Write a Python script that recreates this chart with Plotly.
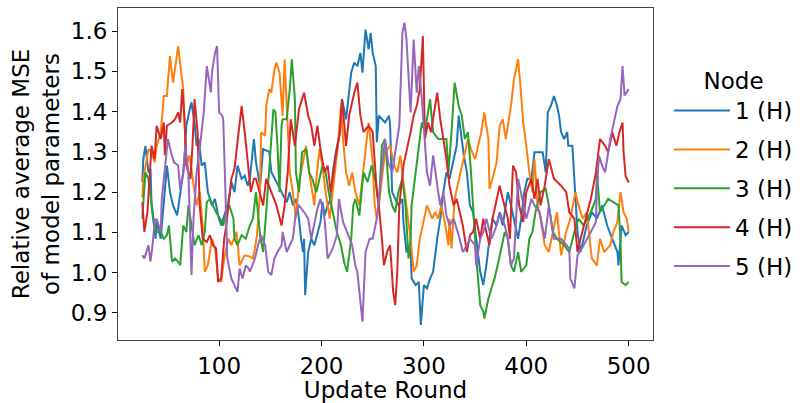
import plotly.graph_objects as go

# Relative average MSE of model parameters per node, read at selected update rounds
node1_rounds = [25, 26, 28, 31, 33, 34, 38, 39, 43, 46, 49, 52, 55, 59, 62, 65, 67, 68, 72, 73, 76, 78, 80, 83, 86, 89, 93, 96, 99, 102, 106, 109, 112, 115, 118, 122, 125, 128,
                130, 134, 136, 140, 143, 149, 151, 159, 166, 169, 172, 175, 178, 180, 182, 183, 184, 187, 190, 193, 196, 199, 201, 203, 206, 209, 211, 214, 218, 220, 224, 229, 232, 235, 238, 240, 243, 246, 248, 250, 253, 254,
                256, 259, 262, 266, 267, 269, 272, 275, 279, 280, 283, 287, 288, 292, 295, 297, 300, 303, 306, 309, 313, 316, 319, 322, 325, 329, 332, 334, 337, 339, 342, 345, 348, 351, 355, 358, 361, 364, 367, 371, 374, 377, 380,
                382, 385, 388, 392, 395, 398, 401, 405, 408, 413, 416, 419, 421, 424, 427, 430, 432, 434, 437, 440, 441, 445, 448, 450, 453, 456, 459, 464, 469, 474, 479, 484, 489, 490, 493, 497, 500]
node1_mse = [1.225, 1.282, 1.315, 1.249, 1.258, 1.167, 1.084, 1.126, 1.084, 1.167, 1.266, 1.200, 1.167, 1.142, 1.200, 1.249, 1.315, 1.365, 1.414, 1.423, 1.373, 1.315, 1.332, 1.266, 1.274, 1.200, 1.167, 1.183, 1.142, 1.117, 1.150, 1.175, 1.225, 1.200, 1.266, 1.233, 1.241, 1.216,
             1.233, 1.332, 1.274, 1.216, 1.307, 1.300, 1.250, 1.208, 1.175, 1.200, 1.167, 1.183, 1.134, 1.084, 1.051, 1.084, 0.944, 1.051, 1.084, 1.068, 1.101, 1.126, 1.175, 1.142, 1.167, 1.183, 1.249, 1.299, 1.349, 1.431, 1.381, 1.497, 1.522, 1.513, 1.546, 1.497, 1.604, 1.555, 1.596, 1.546, 1.513, 1.324,
             1.390, 1.381, 1.373, 1.390, 1.365, 1.200, 1.183, 1.167, 1.183, 1.125, 1.051, 1.060, 0.985, 0.969, 0.977, 0.870, 0.969, 0.961, 0.985, 1.002, 1.084, 1.134, 1.200, 1.249, 1.233, 1.282, 1.315, 1.390, 1.332, 1.291, 1.249, 1.167, 1.150, 1.084, 1.002, 0.969, 1.018, 1.084, 1.134, 1.117, 1.150, 1.117, 1.167,
             1.200, 1.167, 1.134, 1.084, 1.134, 1.200, 1.233, 1.233, 1.299, 1.299, 1.299, 1.249, 1.398, 1.414, 1.439, 1.414, 1.390, 1.349, 1.332, 1.349, 1.315, 1.315, 1.167, 1.101, 1.051, 1.084, 1.117, 1.150, 1.134, 1.167, 1.117, 1.084, 1.051, 1.018, 1.117, 1.093, 1.101]

node2_rounds = [25, 26, 31, 34, 37, 39, 43, 46, 49, 52, 55, 60, 63, 65, 67, 68, 71, 75, 78, 81, 84, 86, 89, 93, 96, 99, 102, 105, 109, 112, 117, 120, 125,
                130, 133, 135, 137, 140, 141, 145, 146, 149, 151, 154, 156, 159, 162, 164, 166, 169, 172, 175, 178, 182, 185, 188, 191, 193, 195, 198, 201, 204, 208, 211, 216, 219, 221, 224, 227, 230, 233, 237, 240, 243, 246, 250, 252, 254,
                256, 259, 262, 267, 271, 274, 277, 280, 283, 287, 290, 293, 296, 300, 303, 308, 311, 314, 317, 321, 324, 325, 327, 330, 340, 343, 346, 350, 353, 356, 359, 363, 364, 367, 371, 374, 377, 380,
                382, 385, 388, 392, 394, 397, 400, 403, 406, 408, 411, 414, 418, 422, 426, 430, 434, 439, 443, 448, 451, 455, 459, 464, 469, 472, 476, 482, 485, 489, 492, 495, 498, 500]
node2_mse = [1.187, 1.233, 1.307, 1.299, 1.274, 1.315, 1.348, 1.439, 1.439, 1.538, 1.472, 1.563, 1.497, 1.456, 1.332, 1.266, 1.291, 1.216, 1.167, 1.200, 1.117, 1.002, 1.018, 1.084, 1.060, 0.985, 0.977, 1.035, 1.084, 1.068, 1.101, 1.018, 1.043,
             1.040, 1.035, 1.060, 1.093, 1.200, 1.349, 1.340, 1.414, 1.456, 1.447, 1.505, 1.522, 1.497, 1.390, 1.530, 1.431, 1.249, 1.200, 1.134, 1.224, 1.274, 1.315, 1.249, 1.200, 1.167, 1.233, 1.307, 1.266, 1.200, 1.134, 1.200, 1.315, 1.414, 1.332, 1.249, 1.216, 1.249, 1.200, 1.167, 1.233, 1.307, 1.373, 1.274, 1.167, 1.134,
             1.167, 1.233, 1.299, 1.315, 1.266, 1.249, 1.291, 1.224, 1.167, 1.084, 1.002, 1.018, 1.084, 1.134, 1.167, 1.134, 1.150, 1.134, 1.167, 1.117, 1.068, 1.134, 1.060, 1.183, 1.299, 1.332, 1.307, 1.282, 1.315, 1.349, 1.398, 1.332, 1.208, 1.233, 1.274, 1.365, 1.381, 1.332,
             1.365, 1.414, 1.480, 1.530, 1.472, 1.373, 1.315, 1.249, 1.200, 1.282, 1.167, 1.134, 1.068, 1.051, 1.101, 1.150, 1.043, 1.101, 1.134, 1.200, 1.167, 1.134, 1.150, 1.035, 1.018, 1.084, 1.051, 1.068, 1.101, 1.126, 1.200, 1.150, 1.134, 1.101]

node3_rounds = [25, 28, 31, 34, 36, 39, 43, 46, 49, 51, 52, 54, 57, 60, 62, 64, 65, 68, 70, 72, 74, 76, 80, 83, 86, 88, 91, 94, 97, 101, 104, 107, 110, 114, 115, 118, 122, 126,
                130, 133, 136, 140, 143, 146, 149, 153, 155, 157, 159, 161, 162, 166, 169, 171, 174, 175, 178, 181, 185, 188, 191, 195, 198, 201, 204, 207, 211, 215, 219, 222, 225, 229, 231, 233, 237, 239, 241, 245, 249, 253,
                256, 259, 262, 266, 269, 272, 275, 279, 282, 285, 287, 288, 292, 295, 298, 301, 306, 309, 314, 322, 324, 327, 330, 334, 337, 340, 343, 346, 348, 351, 355, 358, 359, 363, 366, 369, 372, 376, 379,
                382, 385, 388, 392, 395, 400, 403, 406, 409, 414, 419, 422, 426, 430, 437, 442, 447, 451, 456, 463, 468, 469, 472, 476, 480, 485, 490, 492, 493, 497, 500]
node3_mse = [1.134, 1.249, 1.233, 1.167, 1.134, 1.101, 1.101, 1.084, 1.093, 1.117, 1.084, 1.027, 1.035, 1.027, 1.018, 1.084, 1.117, 1.101, 1.167, 1.134, 1.101, 1.068, 1.093, 1.068, 1.101, 1.175, 1.183, 1.167, 1.150, 1.134, 1.117, 1.150, 1.167, 1.134, 1.084, 1.068, 1.093, 1.084,
             1.117, 1.134, 1.200, 1.093, 1.051, 1.150, 1.266, 1.406, 1.398, 1.315, 1.200, 1.365, 1.381, 1.381, 1.456, 1.530, 1.431, 1.249, 1.200, 1.299, 1.307, 1.249, 1.233, 1.200, 1.233, 1.266, 1.249, 1.200, 1.150, 1.101, 1.068, 1.027, 1.002, 1.084, 1.167, 1.183, 1.142, 1.200, 1.249, 1.225, 1.266, 1.225,
             1.167, 1.315, 1.332, 1.200, 1.167, 1.150, 1.200, 1.233, 1.167, 1.035, 1.084, 1.167, 1.249, 1.315, 1.373, 1.349, 1.431, 1.349, 1.332, 1.332, 1.249, 1.349, 1.472, 1.414, 1.390, 1.332, 1.349, 1.249, 1.167, 1.043, 0.919, 0.903, 0.886, 0.936, 0.961, 0.985, 1.018, 1.068, 1.101,
             1.084, 1.018, 1.002, 1.051, 1.002, 1.018, 1.084, 1.101, 1.150, 1.200, 1.208, 1.167, 1.101, 1.084, 1.068, 1.051, 1.101, 1.134, 1.117, 1.150, 1.183, 1.249, 1.150, 1.167, 1.183, 1.175, 1.167, 1.084, 0.977, 0.969, 0.977]

node4_rounds = [25, 27, 30, 32, 34, 37, 39, 43, 46, 47, 49, 54, 57, 60, 62, 64, 66, 68, 72, 74, 76, 79, 81, 84, 88, 91, 94, 97, 99, 102, 105, 107, 109, 112, 115, 118, 122, 125, 128,
                131, 134, 136, 143, 146, 151, 156, 161, 164, 167, 170, 174, 178, 183, 187, 190, 193, 196, 199, 203, 206, 209, 214, 218, 220, 224, 227, 232, 235, 238, 241, 246, 250, 254,
                256, 259, 261, 264, 267, 270, 272, 274, 276, 280, 283, 287, 290, 293, 296, 299, 301, 304, 307, 309, 313, 316, 319, 322, 325, 329, 332, 335, 338, 342, 345, 348, 351, 355, 358, 361, 364, 367, 371, 374, 377, 380,
                382, 384, 387, 390, 393, 397, 400, 405, 408, 411, 414, 418, 422, 427, 434, 439, 442, 447, 450, 453, 458, 463, 468, 472, 477, 480, 484, 488, 491, 494, 495, 497, 500]
node4_mse = [1.175, 1.101, 1.150, 1.249, 1.315, 1.282, 1.365, 1.332, 1.373, 1.291, 1.365, 1.373, 1.381, 1.398, 1.373, 1.456, 1.390, 1.266, 1.233, 1.315, 1.431, 1.349, 1.167, 1.084, 1.076, 1.093, 1.068, 1.060, 0.977, 0.985, 1.084, 1.117, 1.167, 1.233, 1.258, 1.332, 1.414, 1.349, 1.266,
             1.200, 1.233, 1.233, 1.167, 1.233, 1.200, 1.167, 1.117, 1.167, 1.249, 1.381, 1.315, 1.406, 1.447, 1.390, 1.365, 1.315, 1.365, 1.307, 1.249, 1.266, 1.200, 1.291, 1.349, 1.431, 1.315, 1.390, 1.447, 1.472, 1.390, 1.349, 1.365, 1.349, 1.200,
             1.167, 1.084, 1.018, 1.051, 1.068, 0.952, 0.919, 1.002, 1.167, 1.266, 1.299, 1.349, 1.390, 1.414, 1.456, 1.588, 1.332, 1.373, 1.349, 1.381, 1.447, 1.381, 1.332, 1.282, 1.216, 1.167, 1.183, 1.150, 1.117, 1.051, 1.093, 1.101, 1.134, 1.084, 1.134, 1.101, 1.068, 1.134, 1.183, 1.216, 1.183, 1.150,
             1.134, 1.084, 1.266, 1.249, 1.167, 1.126, 1.200, 1.233, 1.183, 1.233, 1.167, 1.216, 1.282, 1.233, 1.216, 1.200, 1.150, 1.134, 1.051, 1.084, 1.134, 1.183, 1.249, 1.332, 1.315, 1.299, 1.349, 1.315, 1.349, 1.373, 1.300, 1.240, 1.224]

node5_rounds = [25, 27, 31, 33, 35, 37, 39, 43, 44, 47, 50, 53, 56, 60, 62, 65, 67, 70, 73, 75, 78, 81, 85, 88, 92, 93, 96, 98, 100, 103, 104, 106, 108, 112, 115, 118, 120, 123, 126, 129,
                130, 135, 138, 141, 145, 148, 151, 154, 157, 161, 162, 166, 169, 172, 175, 178, 183, 187, 190, 193, 196, 199, 203, 206, 211, 215, 217, 221, 225, 230, 233, 235, 240, 243, 247, 250, 254, 259, 262,
                265, 269, 274, 276, 279, 281, 283, 287, 288, 290, 293, 295, 298, 301, 303, 306, 309, 314, 316, 319, 322, 325, 329, 334, 338, 342, 345, 350, 351, 355, 358, 361, 366, 371, 374, 379,
                382, 385, 388, 392, 397, 400, 405, 408, 413, 418, 422, 427, 434, 439, 442, 443, 447, 450, 456, 463, 468, 469, 471, 474, 477, 482, 485, 489, 492, 494, 496, 500]
node5_mse = [1.043, 1.035, 1.068, 1.027, 1.068, 1.126, 1.134, 1.101, 1.183, 1.266, 1.332, 1.299, 1.274, 1.266, 1.208, 1.249, 1.315, 1.249, 0.994, 1.134, 1.249, 1.307, 1.398, 1.513, 1.448, 1.497, 1.546, 1.563, 1.398, 1.390, 1.381, 1.216, 1.035, 0.985, 0.969, 0.952, 1.010, 0.985, 1.018, 1.010,
             1.002, 1.035, 1.068, 1.093, 1.068, 1.002, 0.994, 1.035, 1.051, 1.068, 1.101, 1.051, 1.068, 1.084, 1.150, 1.167, 1.150, 1.134, 1.084, 1.126, 1.159, 1.183, 1.134, 1.035, 1.060, 1.093, 1.183, 1.126, 1.101, 1.068, 1.018, 1.002, 0.878, 1.051, 1.084, 1.084, 1.134, 1.249, 1.332,
             1.274, 1.249, 1.332, 1.365, 1.596, 1.621, 1.579, 1.398, 1.456, 1.579, 1.447, 1.513, 1.431, 1.332, 1.249, 1.216, 1.291, 1.200, 1.167, 1.200, 1.142, 1.117, 1.134, 1.093, 1.051, 1.068, 1.084, 1.068, 1.018, 1.084, 1.101, 1.134, 1.084, 1.117, 1.150, 1.117,
             1.084, 1.018, 1.035, 1.233, 1.167, 1.134, 1.183, 1.167, 1.150, 1.084, 1.167, 1.084, 1.084, 1.068, 1.060, 0.985, 0.961, 1.043, 1.068, 1.101, 1.126, 1.208, 1.291, 1.266, 1.249, 1.332, 1.365, 1.414, 1.431, 1.513, 1.440, 1.456]

node_labels = ["1 (H)", "2 (H)", "3 (H)", "4 (H)", "5 (H)"]
node_colors = ["#1f77b4", "#ff7f0e", "#2ca02c", "#d62728", "#9467bd"]

x_ticks = [100, 200, 300, 400, 500]
y_ticks = [0.9, 1.0, 1.1, 1.2, 1.3, 1.4, 1.5, 1.6]

series = [
    (node1_rounds, node1_mse),
    (node2_rounds, node2_mse),
    (node3_rounds, node3_mse),
    (node4_rounds, node4_mse),
    (node5_rounds, node5_mse),
]

fig = go.Figure()
for i, ((rounds, mse), label, color) in enumerate(zip(series, node_labels, node_colors)):
    fig.add_trace(go.Scatter(
        x=rounds, y=mse, mode="lines", name=label,
        line=dict(color=color, width=2),
        legendgroup=f"g{i}",
    ))

font = dict(family="DejaVu Sans", size=23, color="#000000")

fig.update_layout(
    width=804, height=403,
    margin=dict(l=118, r=151, t=8, b=63, autoexpand=False),
    paper_bgcolor="white", plot_bgcolor="white",
    font=font,
    showlegend=True,
    legend=dict(
        title=dict(text="Node", side="top center", font=font),
        x=1.03, xanchor="left", y=0.846, yanchor="top",
        font=font, tracegroupgap=6, itemwidth=56,
        bgcolor="rgba(0,0,0,0)",
    ),
    xaxis=dict(
        range=[1.25, 523.75], tickvals=x_ticks,
        ticks="outside", ticklen=5, tickwidth=1, tickcolor="#000",
        showline=True, linecolor="#444", linewidth=1, mirror=True,
        showgrid=False, zeroline=False,
        title=dict(text="Update Round", font=font, standoff=0),
        tickfont=font,
    ),
    yaxis=dict(
        range=[0.8325, 1.6575], tickvals=y_ticks, tickformat=".1f",
        ticks="outside", ticklen=5, tickwidth=1, tickcolor="#000",
        showline=True, linecolor="#444", linewidth=1, mirror=True,
        showgrid=False, zeroline=False,
        title=dict(text="Relative average MSE<br>of model parameters", font=font, standoff=4),
        tickfont=font,
    ),
)

fig.write_html("out.html")
